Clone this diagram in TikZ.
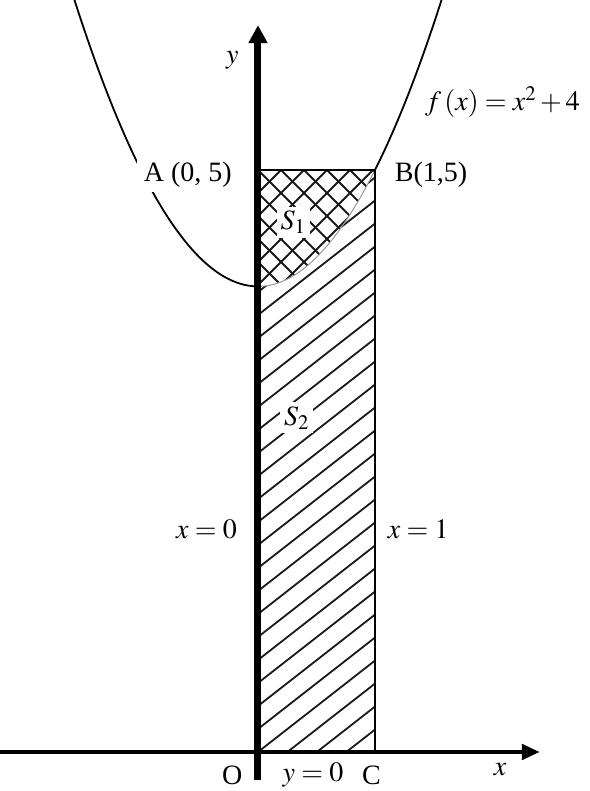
\documentclass[tikz,border=0pt]{standalone}
\usepackage{mathptmx}
\usepackage[no-math]{fontspec}
\setmainfont{Liberation Serif}
\usetikzlibrary{arrows.meta}
\begin{document}
\begin{tikzpicture}[x=117pt,y=116.4pt,
  lab/.style={font=\fontsize{28}{33}\selectfont, inner sep=1pt},
  hatch/.style={line width=1.8pt, black!90},
  curve/.style={line width=1.8pt},
]
\useasboundingbox (-2.2051,-0.3351) rectangle (2.8376,6.4605);
% S1 crosshatch
\begin{scope}
\clip (0,5) -- (1,5) -- plot[domain=1:0,samples=40] (\x,{\x*\x+4}) -- cycle;
\foreach \k in {-6,...,6} {
  \draw[hatch] ([xshift=\k*23pt]0,5) ++(-120pt,-120pt) -- ++(240pt,240pt);
  \draw[hatch] ([xshift=\k*23pt]0,5) ++(-120pt,120pt) -- ++(240pt,-240pt);
}
\end{scope}
% S2 hatch
\begin{scope}
\clip (0,0) -- (1,0) -- (1,5) -- plot[domain=1:0,samples=40] (\x,{\x*\x+4}) -- cycle;
\foreach \k in {-6,...,26} {
  \draw[hatch] ([yshift=\k*23pt]0,0) -- ++(160pt,125pt);
}
\end{scope}
% parabola
\draw[curve] plot[domain=-1.58:0,samples=60] (\x,{\x*\x+4});
\draw[black!40,line width=1pt] plot[domain=0:1,samples=40] (\x,{\x*\x+4});
\draw[curve] plot[domain=1:1.58,samples=40] (\x,{\x*\x+4});
% rectangle
\coordinate (O) at (0,0);
\coordinate (B) at (1,5);
\draw[line width=2.2pt] (O) rectangle (B);
% axes
\coordinate (yb) at (0,-0.24);
\coordinate (yt) at (0,6.245);
\draw[line width=7pt,-{Triangle[length=18pt,width=18pt]}] (yb) -- (yt);
\coordinate (xl) at (-2.25,0);
\coordinate (xr) at (2.41,0);
\draw[line width=4.5pt,-{Triangle[length=18pt,width=15pt]}] (xl) -- (xr);
% labels
\node[lab] (ly) at (-0.22,5.94) {$y$};
\node[lab,fill=white,inner xsep=7pt,inner ysep=5pt] (lA) at (-0.6,4.96) {A (0, 5)};
\node[lab] (lB) at (1.48,4.96) {B(1,5)};
\node[lab] (lf) at (2.09,5.58) {$f\,(x)=x^2+4$};
\node[lab,fill=white,inner sep=4pt] (lS1) at (0.30,4.55) {$S_1$};
\node[lab,fill=white,inner sep=4pt] (lS2) at (0.33,2.87) {$S_2$};
\node[lab] (lx0) at (-0.44,1.91) {$x=0$};
\node[lab] (lx1) at (1.37,1.91) {$x=1$};
\node[lab] (lO) at (-0.22,-0.2) {O};
\node[lab] (ly0) at (0.47,-0.2) {$y=0$};
\node[lab] (lC) at (0.97,-0.2) {C};
\node[lab] (lx) at (2.07,-0.15) {$x$};
\end{tikzpicture}
\end{document}
